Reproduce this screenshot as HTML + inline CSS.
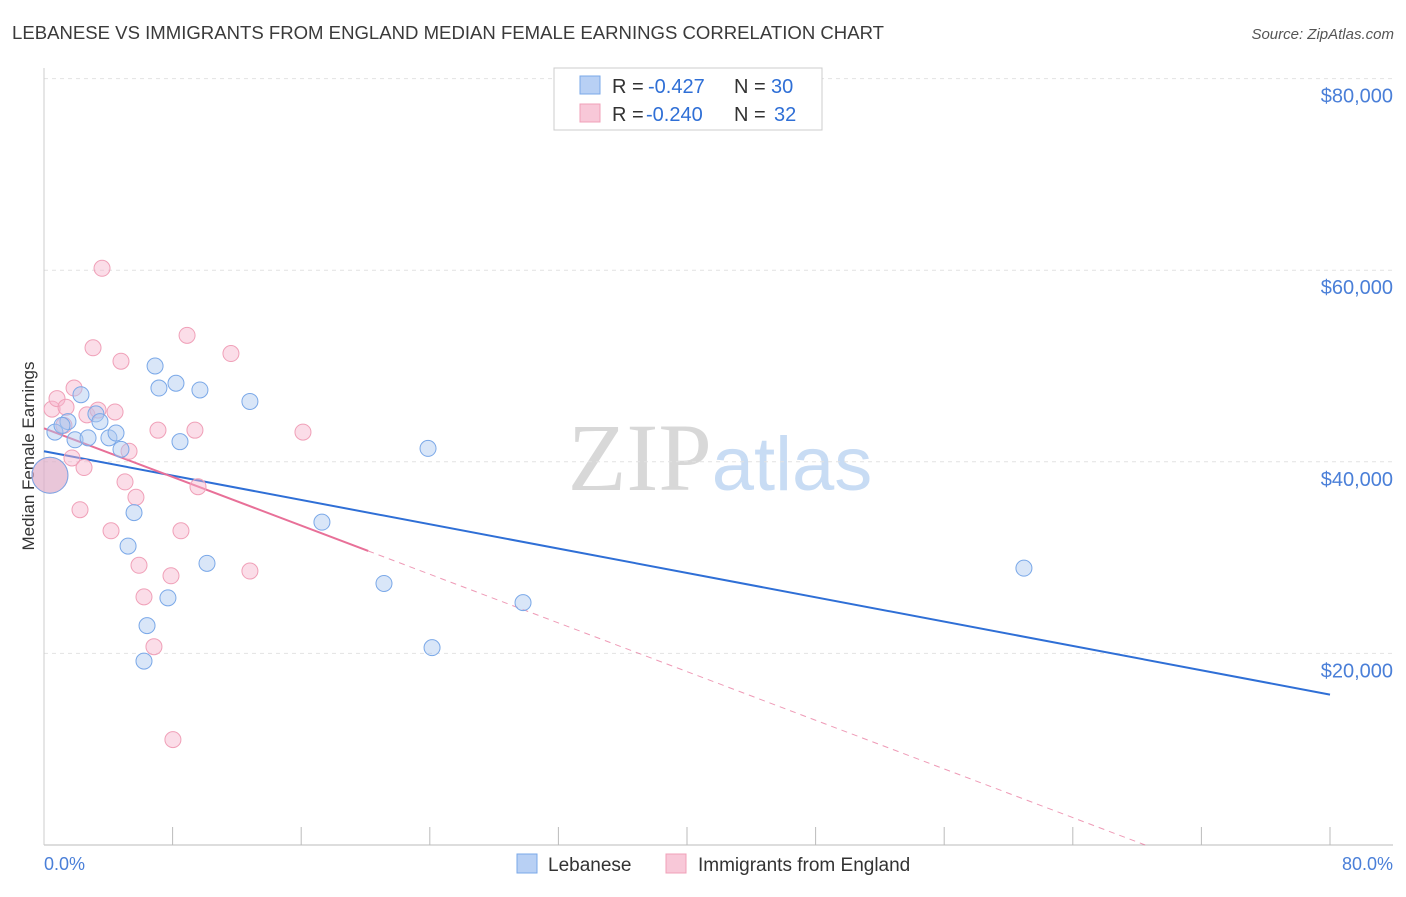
<!DOCTYPE html>
<html><head><meta charset="utf-8"><style>
body{margin:0;background:#fff;font-family:"Liberation Sans",sans-serif;}
svg text{font-family:"Liberation Sans",sans-serif;}
</style></head><body>
<svg id="chart" width="1406" height="892" xmlns="http://www.w3.org/2000/svg">
<text x="12" y="39" font-size="18" fill="#3a3a3a" textLength="872" lengthAdjust="spacingAndGlyphs">LEBANESE VS IMMIGRANTS FROM ENGLAND MEDIAN FEMALE EARNINGS CORRELATION CHART</text>
<text x="1394" y="39" font-size="15" fill="#555" text-anchor="end" font-style="italic">Source: ZipAtlas.com</text>
<text x="720" y="490" font-size="96" text-anchor="middle"><tspan fill="#d8d8d8" font-family="Liberation Serif">ZIP</tspan><tspan fill="#c8dcf4" font-size="76">atlas</tspan></text>
<g id="grid"></g>
<line x1="44" y1="845" x2="1393" y2="845" stroke="#bbb"/>
<line x1="44" y1="68" x2="44" y2="845" stroke="#ccc"/>
<text transform="translate(34,456) rotate(-90)" font-size="17" fill="#333" text-anchor="middle">Median Female Earnings</text>
<text x="44" y="870" font-size="18" fill="#4a7fd8">0.0%</text>
<text x="1393" y="870" font-size="18" fill="#4a7fd8" text-anchor="end">80.0%</text>
<g id="lines"></g>
<g id="points"></g>
<g>
<rect x="554" y="68" width="268" height="62" fill="#fff" stroke="#ccc"/>
<rect x="580" y="76" width="20" height="18" fill="#b8d0f4" stroke="#7aa8e8"/>
<rect x="580" y="104" width="20" height="18" fill="#f8c8d8" stroke="#f0a0b8"/>
<text x="612" y="93" font-size="20" fill="#333">R = </text>
<text x="648" y="93" font-size="20" fill="#2f6fd6">-0.427</text>
<text x="734" y="93" font-size="20" fill="#333">N = </text>
<text x="771" y="93" font-size="20" fill="#2f6fd6">30</text>
<text x="612" y="121" font-size="20" fill="#333">R = </text>
<text x="646" y="121" font-size="20" fill="#2f6fd6">-0.240</text>
<text x="734" y="121" font-size="20" fill="#333">N = </text>
<text x="774" y="121" font-size="20" fill="#2f6fd6">32</text>
</g>
<g>
<rect x="517" y="854" width="20" height="19" fill="#b8d0f4" stroke="#7aa8e8"/>
<text x="548" y="871" font-size="19" fill="#333">Lebanese</text>
<rect x="666" y="854" width="20" height="19" fill="#f8c8d8" stroke="#f0a0b8"/>
<text x="698" y="871" font-size="19" fill="#333">Immigrants from England</text>
</g>
</svg>
<script>
const yTicks=[20000,40000,60000,80000];
const yTickLabels=["$20,000","$40,000","$60,000","$80,000"];
const xTicks=[0,8,16,24,32,40,48,56,64,72,80];
const blueX=[0.68,1.49,1.93,2.30,3.23,3.48,4.04,4.48,4.79,5.23,5.60,6.22,6.41,6.91,7.15,7.71,8.21,8.46,9.70,10.14,12.81,17.29,21.15,23.89,24.14,29.80,60.96,0.37,1.12,2.74];
const blueY=[43.1,44.2,42.3,47.0,45.0,44.2,42.5,43.0,41.3,31.2,34.7,19.2,22.9,50.0,47.7,25.8,48.2,42.1,47.5,29.4,46.3,33.7,27.3,41.4,20.6,25.3,28.9,38.6,43.8,42.5];
const pinkX=[0.5,0.81,1.24,1.37,1.74,1.87,2.24,2.49,2.67,3.05,3.36,3.61,4.17,4.42,4.79,5.04,5.29,5.72,5.91,6.22,6.84,7.09,7.90,8.02,8.52,8.90,9.39,9.58,11.63,12.81,16.11,0.37];
const pinkY=[45.5,46.6,43.8,45.7,40.4,47.7,35.0,39.4,44.9,51.9,45.4,60.2,32.8,45.2,50.5,37.9,41.1,36.3,29.2,25.9,20.7,43.3,28.1,11.0,32.8,53.2,43.3,37.4,51.3,28.6,43.1,38.6];
const blueLine=[41.1,-0.3175];
const pinkLine=[43.5,-0.635];
const pinkSolidEnd=20.17;
const NS="http://www.w3.org/2000/svg";
const xs=v=>44+v*(1286/80);
const ys=v=>845-v*(191.6/20000);
function mk(tag,attrs,parent){const e=document.createElementNS(NS,tag);for(const k in attrs)e.setAttribute(k,attrs[k]);parent.appendChild(e);return e;}
const grid=document.getElementById('grid');
yTicks.forEach((t,i)=>{
 const l=mk('line',{x1:44,x2:1393,y1:ys(t),y2:ys(t),stroke:'#e2e2e2','stroke-dasharray':'4,4'},grid);
 
 
 const tx=mk('text',{x:1393,y:ys(t)+24,'font-size':20,fill:'#4a7fd8','text-anchor':'end'},grid);
 tx.textContent=yTickLabels[i];
 
 
});
xTicks.forEach(t=>{
 const l=mk('line',{x1:xs(t),x2:xs(t),y1:827,y2:845,stroke:'#bbb'},grid);
 
 
});
const lines=document.getElementById('lines');
const bl=mk('line',{x1:xs(0),y1:ys(blueLine[0]*1000),x2:xs(80),y2:ys((blueLine[0]+blueLine[1]*80)*1000),stroke:'#2f6fd6','stroke-width':2},lines);


const pzero=-pinkLine[0]/pinkLine[1];
const pd=mk('line',{x1:xs(pinkSolidEnd),y1:ys((pinkLine[0]+pinkLine[1]*pinkSolidEnd)*1000),x2:xs(pzero),y2:ys(0),stroke:'#e87098','stroke-width':1,'stroke-dasharray':'6,5',opacity:0.7},lines);


const ps=mk('line',{x1:xs(0),y1:ys(pinkLine[0]*1000),x2:xs(pinkSolidEnd),y2:ys((pinkLine[0]+pinkLine[1]*pinkSolidEnd)*1000),stroke:'#e87098','stroke-width':2},lines);


const pts=document.getElementById('points');
pinkX.forEach((x,i)=>{
 const big=(i===pinkX.length-1);
 const c=mk('circle',{cx:xs(x),cy:ys(pinkY[i]*1000),r:big?18:8,fill:'rgba(246,180,204,0.45)',stroke:'#f0a0b8','stroke-width':1},pts);
 
 
});
blueX.forEach((x,i)=>{
 const big=(i===27);
 const c=mk('circle',{cx:xs(x),cy:ys(blueY[i]*1000),r:big?18:8,fill:big?'rgba(210,170,200,0.45)':'rgba(170,200,240,0.45)',stroke:'#7aa8e8','stroke-width':1},pts);
 
 
});
</script>
</body></html>
